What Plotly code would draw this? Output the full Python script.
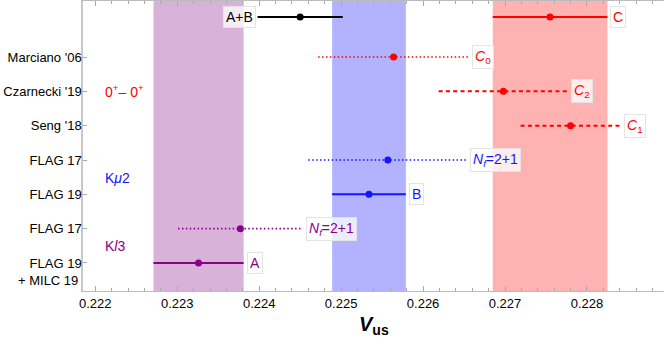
import plotly.graph_objects as go

# --- data ---
rows      = ['A+B', "Marciano '06", "Czarnecki '19", "Seng '18",
             'FLAG 17', 'FLAG 19', 'FLAG 17', 'FLAG 19']
row_y     = [8.17, 7, 6, 5, 4, 3, 2, 1]
centers   = [0.2245, 0.22564, 0.22698, 0.22780, 0.22557, 0.22534, 0.22377, 0.22326]
errors    = [0.00052, 0.00092, 0.00079, 0.00061, 0.00097, 0.00045, 0.00076, 0.00055]
colors    = ['black', '#ff0000', '#ff0000', '#ff0000', '#1414ff', '#1414ff', '#8b008b', '#8b008b']
styles    = ['solid', 'dot', 'dash', 'dash', 'dot', 'solid', 'dot', 'solid']
tags      = ['A+B', '<i>C</i><sub>0</sub>', '<i>C</i><sub>2</sub>', '<i>C</i><sub>1</sub>',
             '<i>N<sub>f</sub></i>=2+1', 'B', '<i>N<sub>f</sub></i>=2+1', 'A']

# averages shown as bands
band_names   = ['A', 'B', 'C']
band_centers = [0.22326, 0.22534, 0.22755]
band_errors  = [0.00055, 0.00045, 0.00070]
band_colors  = ['rgba(128,0,128,0.3)', 'rgba(0,0,255,0.3)', 'rgba(255,0,0,0.3)']
c_row_y      = 8.17

x_ticks = [0.222, 0.223, 0.224, 0.225, 0.226, 0.227, 0.228]

DASH = {'solid': 'solid', 'dot': '1.5px,2.4px', 'dash': '4px,3.3px'}
FONT = 'Liberation Sans, Arial, sans-serif'

fig = go.Figure()

for c, e, col in zip(band_centers, band_errors, band_colors):
    fig.add_shape(type='rect', xref='x', yref='paper', x0=c - e, x1=c + e, y0=0, y1=1,
                  fillcolor=col, line_width=0, layer='below')

def add_row(y, c, e, col, style, tag, left=False):
    fig.add_trace(go.Scatter(x=[c - e, c + e], y=[y, y], mode='lines',
                             line=dict(color=col, width=2 if style != 'dot' else 1.6,
                                       dash=DASH[style]),
                             showlegend=False, hoverinfo='skip'))
    fig.add_trace(go.Scatter(x=[c], y=[y], mode='markers',
                             marker=dict(color=col, size=7), showlegend=False))
    fig.add_annotation(x=(c - e) if left else (c + e), y=y, text=tag,
                       xanchor='right' if left else 'left', xshift=-2 if left else 3,
                       showarrow=False, font=dict(family=FONT, size=14, color=col),
                       bgcolor='rgba(255,255,255,0.75)', bordercolor='#e4e4e4',
                       borderwidth=1, borderpad=2)

for i in range(len(rows)):
    add_row(row_y[i], centers[i], errors[i], colors[i], styles[i], tags[i], left=(i == 0))

# C average drawn on the top row
add_row(c_row_y, band_centers[2], band_errors[2], '#ff0000', 'solid', 'C')

# group labels
for txt, yy, col in [('0<sup>+</sup>– 0<sup>+</sup>', 6, '#ff0000'),
                     ('K<i>μ</i>2', 3.48, '#1414ff'),
                     ('K<i>l</i>3', 1.5, '#8b008b')]:
    fig.add_annotation(x=0.2221, y=yy, text=txt, xanchor='left', showarrow=False,
                       font=dict(family=FONT, size=14, color=col))

fig.add_annotation(x=0, xref='paper', y=1, yshift=-18, text='+ MILC 19', xanchor='right',
                   xshift=-3, showarrow=False, font=dict(family=FONT, size=13, color='black'))

# axis title as annotation
fig.add_annotation(x=0.5, xref='paper', y=0, yref='paper', yshift=-34, yanchor='middle',
                   text='<b><i>V</i><sub>us</sub></b>', showarrow=False,
                   font=dict(family=FONT, size=20, color='black'))

fig.update_xaxes(range=[0.22185, 0.22894], tickvals=x_ticks,
                 ticktext=[f'{t:.3f}' for t in x_ticks], automargin=False,
                 ticks='inside', ticklen=5, tickcolor='#aaa', showline=True, linecolor='#bbb',
                 mirror='ticks', showgrid=False, zeroline=False,
                 minor=dict(dtick=0.0002, tick0=0.222, ticks='inside', ticklen=3, tickcolor='#aaa'),
                 tickfont=dict(family=FONT, size=13, color='black'))
fig.update_yaxes(range=[0.184, 8.633], tickvals=row_y[1:], ticktext=rows[1:],
                 automargin=False, ticklabelstandoff=-3,
                 ticks='inside', ticklen=4, tickcolor='#aaa', showline=True, linecolor='#c8c8c8',
                 linewidth=1.5, showgrid=False, zeroline=False,
                 tickfont=dict(family=FONT, size=13, color='black'))

fig.update_layout(width=664, height=338, margin=dict(l=83, r=0, t=1, b=47),
                  plot_bgcolor='white', paper_bgcolor='white')

fig.write_html('out.html', config={'displayModeBar': False},
               post_script="document.body.style.margin='0';")
